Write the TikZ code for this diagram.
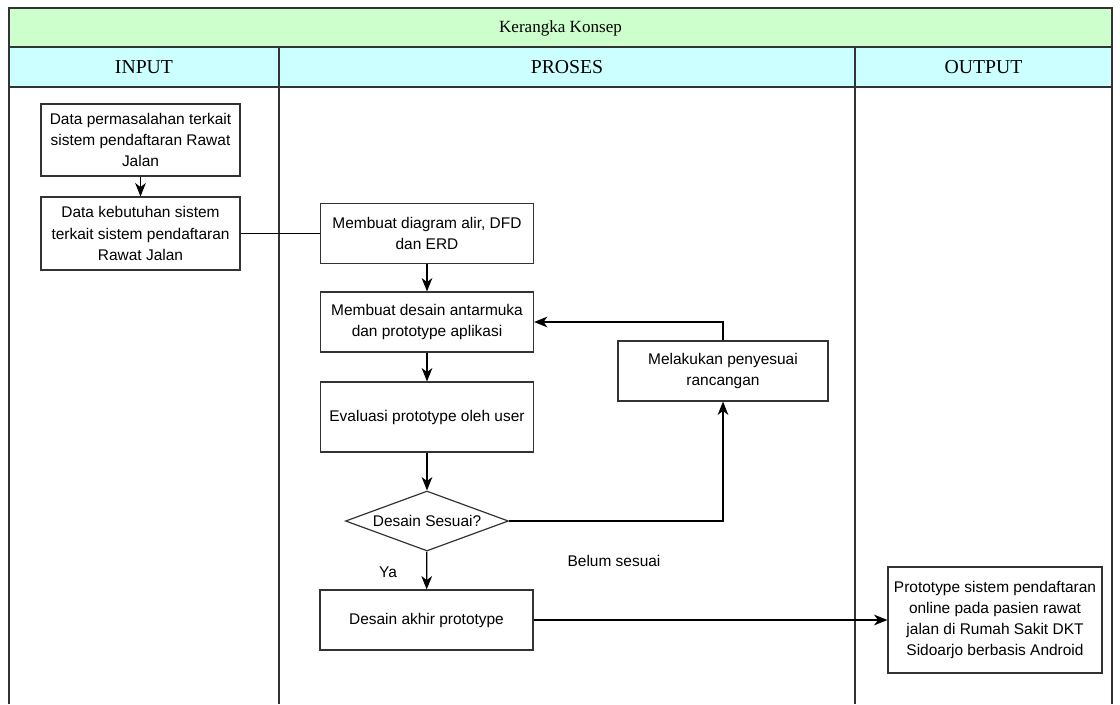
\documentclass[tikz,border=0pt]{standalone}
\usepackage{fontspec}
\setmainfont{Liberation Serif}
\newfontfamily\boxfont{Liberation Sans}
\usetikzlibrary{arrows.meta,shapes.geometric}
\definecolor{titlegreen}{HTML}{CCFFCC}
\definecolor{headcyan}{HTML}{CCFFFF}
\definecolor{linegray}{HTML}{333333}
\tikzset{
  procbox/.style={draw=linegray, line width=0.9pt, fill=white, align=center, inner sep=1pt,
    font=\boxfont\fontsize{11.6}{15.9}\selectfont},
  decbox/.style={draw=linegray, line width=0.9pt, fill=white, diamond, aspect=2.7, inner sep=0pt,
    font=\boxfont\fontsize{11.6}{15.9}\selectfont},
  conn/.style={draw=black, line width=0.9pt},
  arr/.style={conn, -{Stealth[length=10pt,width=8pt,inset=3pt]}},
  lbl/.style={font=\boxfont\fontsize{11.6}{14}\selectfont, inner sep=0pt},
  frame/.style={draw=linegray, line width=0.9pt},
  headtxt/.style={font=\fontsize{14.8}{17}\selectfont, inner sep=0pt},
}
\begin{document}
\begin{tikzpicture}[x=0.75pt,y=-0.75pt]
\useasboundingbox (0,0) rectangle (1120,704);
% bands
\fill[titlegreen] (9,8) rectangle (1112,47);
\fill[headcyan] (9,47) rectangle (1112,87);
\draw[frame] (9,704) -- (9,8) -- (1112,8) -- (1112,704);
\draw[frame] (9,47) -- (1112,47);
\draw[frame] (9,87) -- (1112,87);
\draw[frame] (279,47) -- (279,704);
\draw[frame] (855,47) -- (855,704);
\node[headtxt, font=\fontsize{12.8}{15}\selectfont] (title) at (560.5,28) {Kerangka Konsep};
\node[headtxt] (hin) at (144,67) {INPUT};
\node[headtxt] (hpr) at (567,67) {PROSES};
\node[headtxt] (hout) at (983.5,67) {OUTPUT};
% nodes
\node[procbox, minimum width=199*0.75pt, minimum height=72*0.75pt] (a) at (140.5,140)
  {Data permasalahan terkait\\sistem pendaftaran Rawat\\Jalan};
\node[procbox, minimum width=199*0.75pt, minimum height=73*0.75pt] (b) at (140.5,233.5)
  {Data kebutuhan sistem\\terkait sistem pendaftaran\\Rawat Jalan};
\node[procbox, minimum width=213*0.75pt, minimum height=60*0.75pt] (c) at (427,233.5)
  {Membuat diagram alir, DFD\\dan ERD};
\node[procbox, minimum width=213*0.75pt, minimum height=60*0.75pt] (d) at (427,322)
  {Membuat desain antarmuka\\dan prototype aplikasi};
\node[procbox, minimum width=213*0.75pt, minimum height=70*0.75pt] (e) at (427,417)
  {Evaluasi prototype oleh user};
\node[decbox, minimum width=163*0.75pt, minimum height=60*0.75pt] (f) at (427,521)
  {Desain Sesuai?};
\node[procbox, minimum width=210*0.75pt, minimum height=60*0.75pt] (m) at (723,371)
  {Melakukan penyesuai\\rancangan};
\node[procbox, minimum width=213*0.75pt, minimum height=60*0.75pt] (g) at (426.5,620)
  {Desain akhir prototype};
\node[procbox, minimum width=214*0.75pt, minimum height=106*0.75pt] (h) at (995,620)
  {Prototype sistem pendaftaran\\online pada pasien rawat\\jalan di Rumah Sakit DKT\\Sidoarjo berbasis Android};
% labels
\node[lbl] (ya) at (388,572) {Ya};
\node[lbl] (belum) at (614,561) {Belum sesuai};
% connectors
\draw[arr] (a) -- (b);
\draw[conn] (b.east) -- (c.west);
\draw[arr] (c) -- (d);
\draw[arr] (d) -- (e);
\draw[arr] (e) -- (f);
\draw[arr] (f) -- (g);
\coordinate (lp1) at (m.north |- d.east);
\draw[arr] (m.north) -- (lp1) -- (d.east);
\coordinate (lp2) at (m.south |- f.east);
\draw[arr] (f.east) -- (lp2) -- (m.south);
\draw[arr] (g.east) -- (h.west);
\end{tikzpicture}
\end{document}
